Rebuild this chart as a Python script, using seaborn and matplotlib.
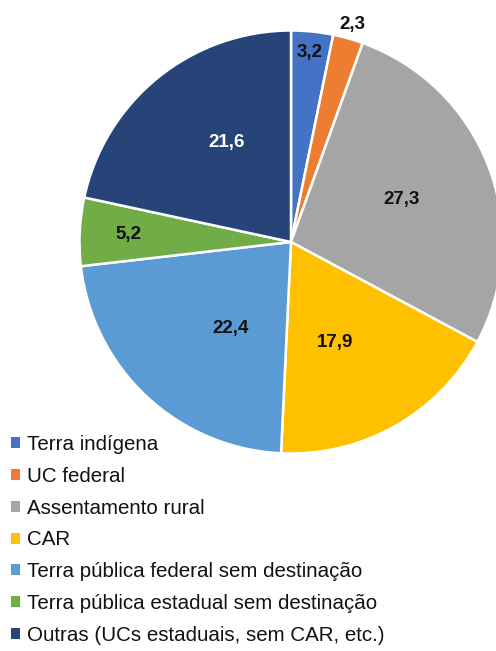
import numpy as np
import seaborn as sns
import matplotlib.pyplot as plt

categorias = ["Terra indígena", "UC federal", "Assentamento rural", "CAR",
              "Terra pública federal sem destinação",
              "Terra pública estadual sem destinação",
              "Outras (UCs estaduais, sem CAR, etc.)"]
valores = [3.2, 2.3, 27.3, 17.9, 22.4, 5.2, 21.6]
rotulos = ["3,2", "2,3", "27,3", "17,9", "22,4", "5,2", "21,6"]
cores = ["#4472C4", "#ED7D31", "#A5A5A5", "#FFC000", "#5B9BD5", "#70AD47", "#264478"]

sns.set_style("white")
plt.rcParams["font.family"] = ["Liberation Sans", "DejaVu Sans"]

fig = plt.figure(figsize=(4.96, 6.51), dpi=100)
ax = fig.add_axes([79.5 / 496, (651 - 453.5) / 651, 423 / 496, 423 / 651])

wedges, _ = ax.pie(valores, colors=sns.color_palette(cores), startangle=90,
                   counterclock=False, radius=1,
                   wedgeprops=dict(edgecolor="white", linewidth=1.8))
ax.set_xlim(-1, 1)
ax.set_ylim(-1, 1)
ax.set_aspect("equal")
ax.axis("off")

# posicao dos rotulos: distancia radial e pequeno desvio de angulo (graus)
dist = [0.90, 1.07, 0.56, 0.52, 0.50, 0.77, 0.56]
desvio = [0, 0, 0, -6, 8, 0, -6]
for w, txt, d, da, c in zip(wedges, rotulos, dist, desvio, cores):
    ang = np.deg2rad((w.theta1 + w.theta2) / 2 + da)
    cor_txt = "white" if c == "#264478" else "#111111"
    ax.text(d * np.cos(ang), d * np.sin(ang), txt, ha="center", va="center",
            fontsize=13.5, fontweight="bold", color=cor_txt, clip_on=False)

leg = fig.legend(wedges, categorias, loc="upper left",
                 bbox_to_anchor=(5 / 496, (651 - 429) / 651), frameon=False,
                 fontsize=14.8, handlelength=0.45, handleheight=0.45,
                 handletextpad=0.3, labelspacing=0.62, borderaxespad=0,
                 borderpad=0.3, labelcolor="#111111")
for h in leg.legend_handles:
    h.set_edgecolor("none")

plt.savefig("out.png", dpi=100)
